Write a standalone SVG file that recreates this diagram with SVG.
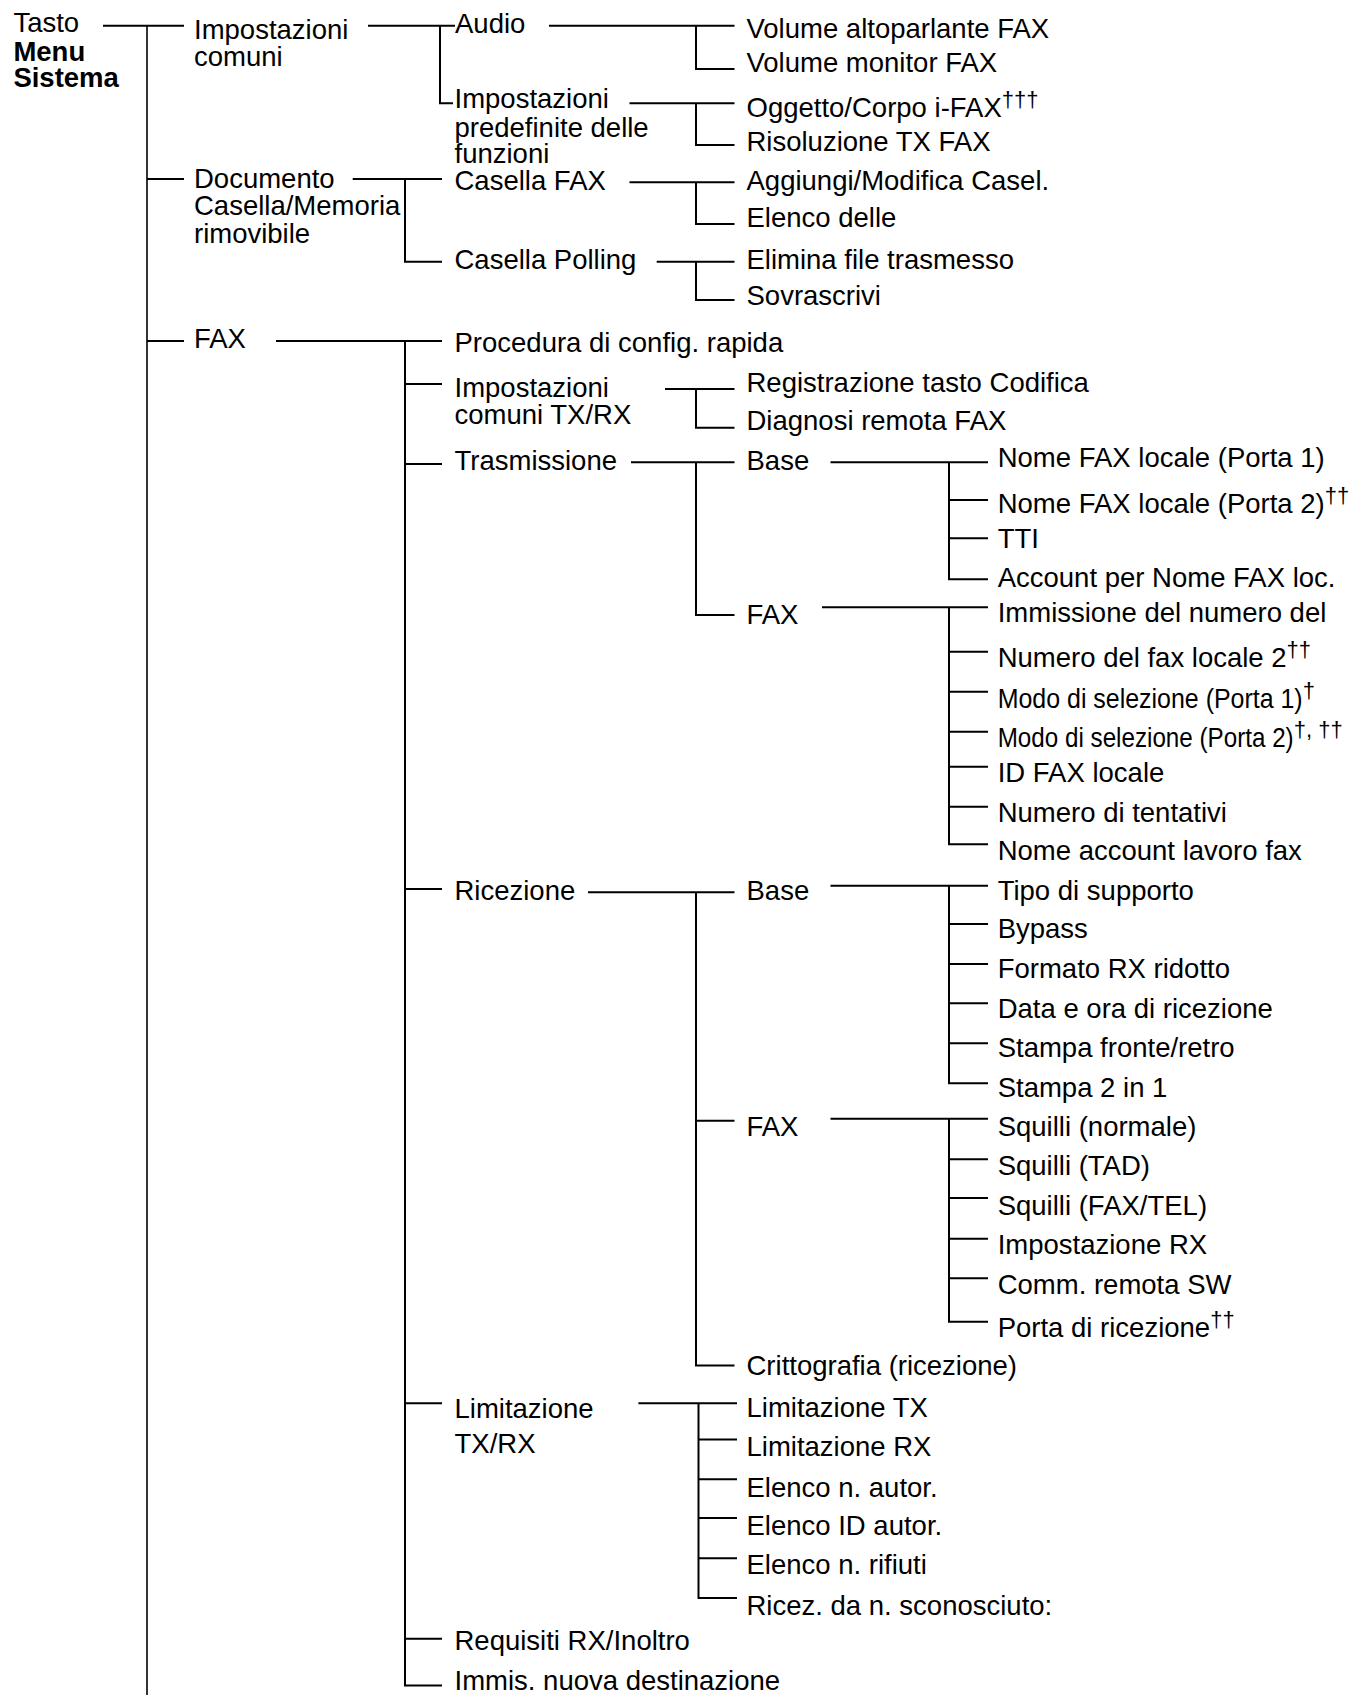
<svg xmlns="http://www.w3.org/2000/svg" width="1353" height="1704" viewBox="0 0 1353 1704">
<style>
text{font-family:"Liberation Sans",Arial,Helvetica,sans-serif;font-size:27.5px;fill:#000}
.b{font-weight:bold}
.sup{font-size:22px}
.c path{fill:none;stroke:#000;stroke-width:2}
.c path.main{stroke-width:1.6}
</style>
<rect width="1353" height="1704" fill="#fff"/>
<g id="connectors" class="c">
<path d="M103,25.7H184"/>
<path class="main" d="M147,25.7V1695"/>
<path d="M147,179H184M147,341H184"/>
<path d="M368,25.7H455M440,25.7V103.3H453"/>
<path d="M549,25.7H734.5M696,25.7V69H734.5"/>
<path d="M629.5,103.3H734.5M696,103.3V145H734.5"/>
<path d="M352.7,179H442M405,179V261.7H442"/>
<path d="M629.5,182.3H734.5M696,182.3V224H734.5"/>
<path d="M656.7,261.7H734.5M696,261.7V300H734.5"/>
<path d="M276,341H442M405,341V1685.4H442"/>
<path d="M405,384H442M405,464H442M405,889H442M405,1403.3H442M405,1638.75H442"/>
<path d="M665,389H734.5M696,389V427.7H734.5"/>
<path d="M631,462.3H734.5M696,462.3V615H734.5"/>
<path d="M830.5,462.3H988M949,462.3V579.3H988M949,500H988M949,538.3H988"/>
<path d="M822,607.3H988M949,607.3V844.3H988M949,651.7H988M949,691.7H988M949,731.7H988M949,766.7H988M949,806.7H988"/>
<path d="M588,892.3H734.5M696,892.3V1365.4H734.5M696,1120.8H734.5"/>
<path d="M830.5,885.7H988M949,885.7V1083.3H988M949,924H988M949,964H988M949,1003.3H988M949,1043.3H988"/>
<path d="M830.5,1118.75H988M949,1118.75V1321.7H988M949,1159.2H988M949,1197.9H988M949,1238.75H988M949,1278.3H988"/>
<path d="M638.4,1403.3H737M698.5,1403.3V1597.9H737M698.5,1439.6H737M698.5,1479.2H737M698.5,1517.9H737M698.5,1558.3H737"/>
</g>
<g id="root"><text x="13.4" y="32.3">Tasto</text><text class="b" x="13.4" y="60.7">Menu</text><text class="b" x="13.4" y="87.3">Sistema</text></g>
<g id="imp-comuni"><text x="194" y="39">Impostazioni</text><text x="194" y="65.7">comuni</text></g>
<g id="documento"><text x="194" y="188">Documento</text><text x="194" y="215">Casella/Memoria</text><text x="194" y="242.7">rimovibile</text></g>
<g id="fax"><text x="194" y="348.3">FAX</text></g>
<g id="audio"><text x="455" y="33.3">Audio</text></g>
<g id="imp-predef"><text x="454.5" y="108">Impostazioni</text><text x="454.5" y="136.7">predefinite delle</text><text x="454.5" y="163.3">funzioni</text></g>
<g id="casella-fax"><text x="454.5" y="190">Casella FAX</text></g>
<g id="casella-polling"><text x="454.5" y="269.3">Casella Polling</text></g>
<g id="procedura"><text x="454.5" y="351.7">Procedura di config. rapida</text></g>
<g id="imp-txrx"><text x="454.5" y="396.7">Impostazioni</text><text x="454.5" y="424">comuni TX/RX</text></g>
<g id="trasmissione"><text x="454.5" y="470">Trasmissione</text></g>
<g id="ricezione"><text x="454.5" y="900">Ricezione</text></g>
<g id="limitazione"><text x="454.5" y="1417.5">Limitazione</text><text x="454.5" y="1453.3">TX/RX</text></g>
<g id="requisiti"><text x="454.5" y="1650">Requisiti RX/Inoltro</text></g>
<g id="immis"><text x="454.5" y="1690">Immis. nuova destinazione</text></g>
<g id="vol-alto"><text x="746.5" y="38.3">Volume altoparlante FAX</text></g>
<g id="vol-mon"><text x="746.5" y="72.3">Volume monitor FAX</text></g>
<g id="oggetto"><text x="746.5" y="116.7">Oggetto/Corpo i-FAX<tspan class="sup" dy="-10">†††</tspan></text></g>
<g id="risoluzione"><text x="746.5" y="151">Risoluzione TX FAX</text></g>
<g id="aggiungi"><text x="746.5" y="190">Aggiungi/Modifica Casel.</text></g>
<g id="elenco-delle"><text x="746.5" y="226.7">Elenco delle</text></g>
<g id="elimina"><text x="746.5" y="269.3">Elimina file trasmesso</text></g>
<g id="sovrascrivi"><text x="746.5" y="305">Sovrascrivi</text></g>
<g id="registrazione"><text x="746.5" y="391.7">Registrazione tasto Codifica</text></g>
<g id="diagnosi"><text x="746.5" y="430">Diagnosi remota FAX</text></g>
<g id="base-tx"><text x="746.5" y="470">Base</text></g>
<g id="fax-tx"><text x="746.5" y="624">FAX</text></g>
<g id="base-rx"><text x="746.5" y="900">Base</text></g>
<g id="fax-rx"><text x="746.5" y="1136">FAX</text></g>
<g id="crittografia"><text x="746.5" y="1375">Crittografia (ricezione)</text></g>
<g id="lim-tx"><text x="746.5" y="1416.7">Limitazione TX</text></g>
<g id="lim-rx"><text x="746.5" y="1456.3">Limitazione RX</text></g>
<g id="elenco-autor"><text x="746.5" y="1496.7">Elenco n. autor.</text></g>
<g id="elenco-id"><text x="746.5" y="1534.6">Elenco ID autor.</text></g>
<g id="elenco-rifiuti"><text x="746.5" y="1574.2">Elenco n. rifiuti</text></g>
<g id="ricez-sconosciuto"><text x="746.5" y="1614.6">Ricez. da n. sconosciuto:</text></g>
<g id="nome-p1"><text x="997.7" y="466.7">Nome FAX locale (Porta 1)</text></g>
<g id="nome-p2"><text x="997.7" y="513.3">Nome FAX locale (Porta 2)<tspan class="sup" dy="-10">††</tspan></text></g>
<g id="tti"><text x="997.7" y="548.3">TTI</text></g>
<g id="account"><text x="997.7" y="586.7">Account per Nome FAX loc.</text></g>
<g id="immissione"><text x="997.7" y="621.7">Immissione del numero del</text></g>
<g id="numero2"><text x="997.7" y="666.7">Numero del fax locale 2<tspan class="sup" dy="-10">††</tspan></text></g>
<g id="modo-p1"><text x="997.7" y="708.3"><tspan textLength="305" lengthAdjust="spacingAndGlyphs">Modo di selezione (Porta 1)</tspan><tspan class="sup" dy="-10">†</tspan></text></g>
<g id="modo-p2"><text x="997.7" y="746.7"><tspan textLength="296" lengthAdjust="spacingAndGlyphs">Modo di selezione (Porta 2)</tspan><tspan class="sup" dy="-10">†, ††</tspan></text></g>
<g id="id-fax"><text x="997.7" y="781.7">ID FAX locale</text></g>
<g id="tentativi"><text x="997.7" y="821.7">Numero di tentativi</text></g>
<g id="nome-account"><text x="997.7" y="860">Nome account lavoro fax</text></g>
<g id="tipo"><text x="997.7" y="900">Tipo di supporto</text></g>
<g id="bypass"><text x="997.7" y="938.3">Bypass</text></g>
<g id="formato"><text x="997.7" y="978.3">Formato RX ridotto</text></g>
<g id="data"><text x="997.7" y="1018.3">Data e ora di ricezione</text></g>
<g id="fronte"><text x="997.7" y="1056.7">Stampa fronte/retro</text></g>
<g id="stampa2"><text x="997.7" y="1096.7">Stampa 2 in 1</text></g>
<g id="squilli-n"><text x="997.7" y="1136">Squilli (normale)</text></g>
<g id="squilli-tad"><text x="997.7" y="1175">Squilli (TAD)</text></g>
<g id="squilli-tel"><text x="997.7" y="1214.6">Squilli (FAX/TEL)</text></g>
<g id="imp-rx"><text x="997.7" y="1254.2">Impostazione RX</text></g>
<g id="comm"><text x="997.7" y="1293.8">Comm. remota SW</text></g>
<g id="porta"><text x="997.7" y="1336.7">Porta di ricezione<tspan class="sup" dy="-10">††</tspan></text></g>
</svg>
